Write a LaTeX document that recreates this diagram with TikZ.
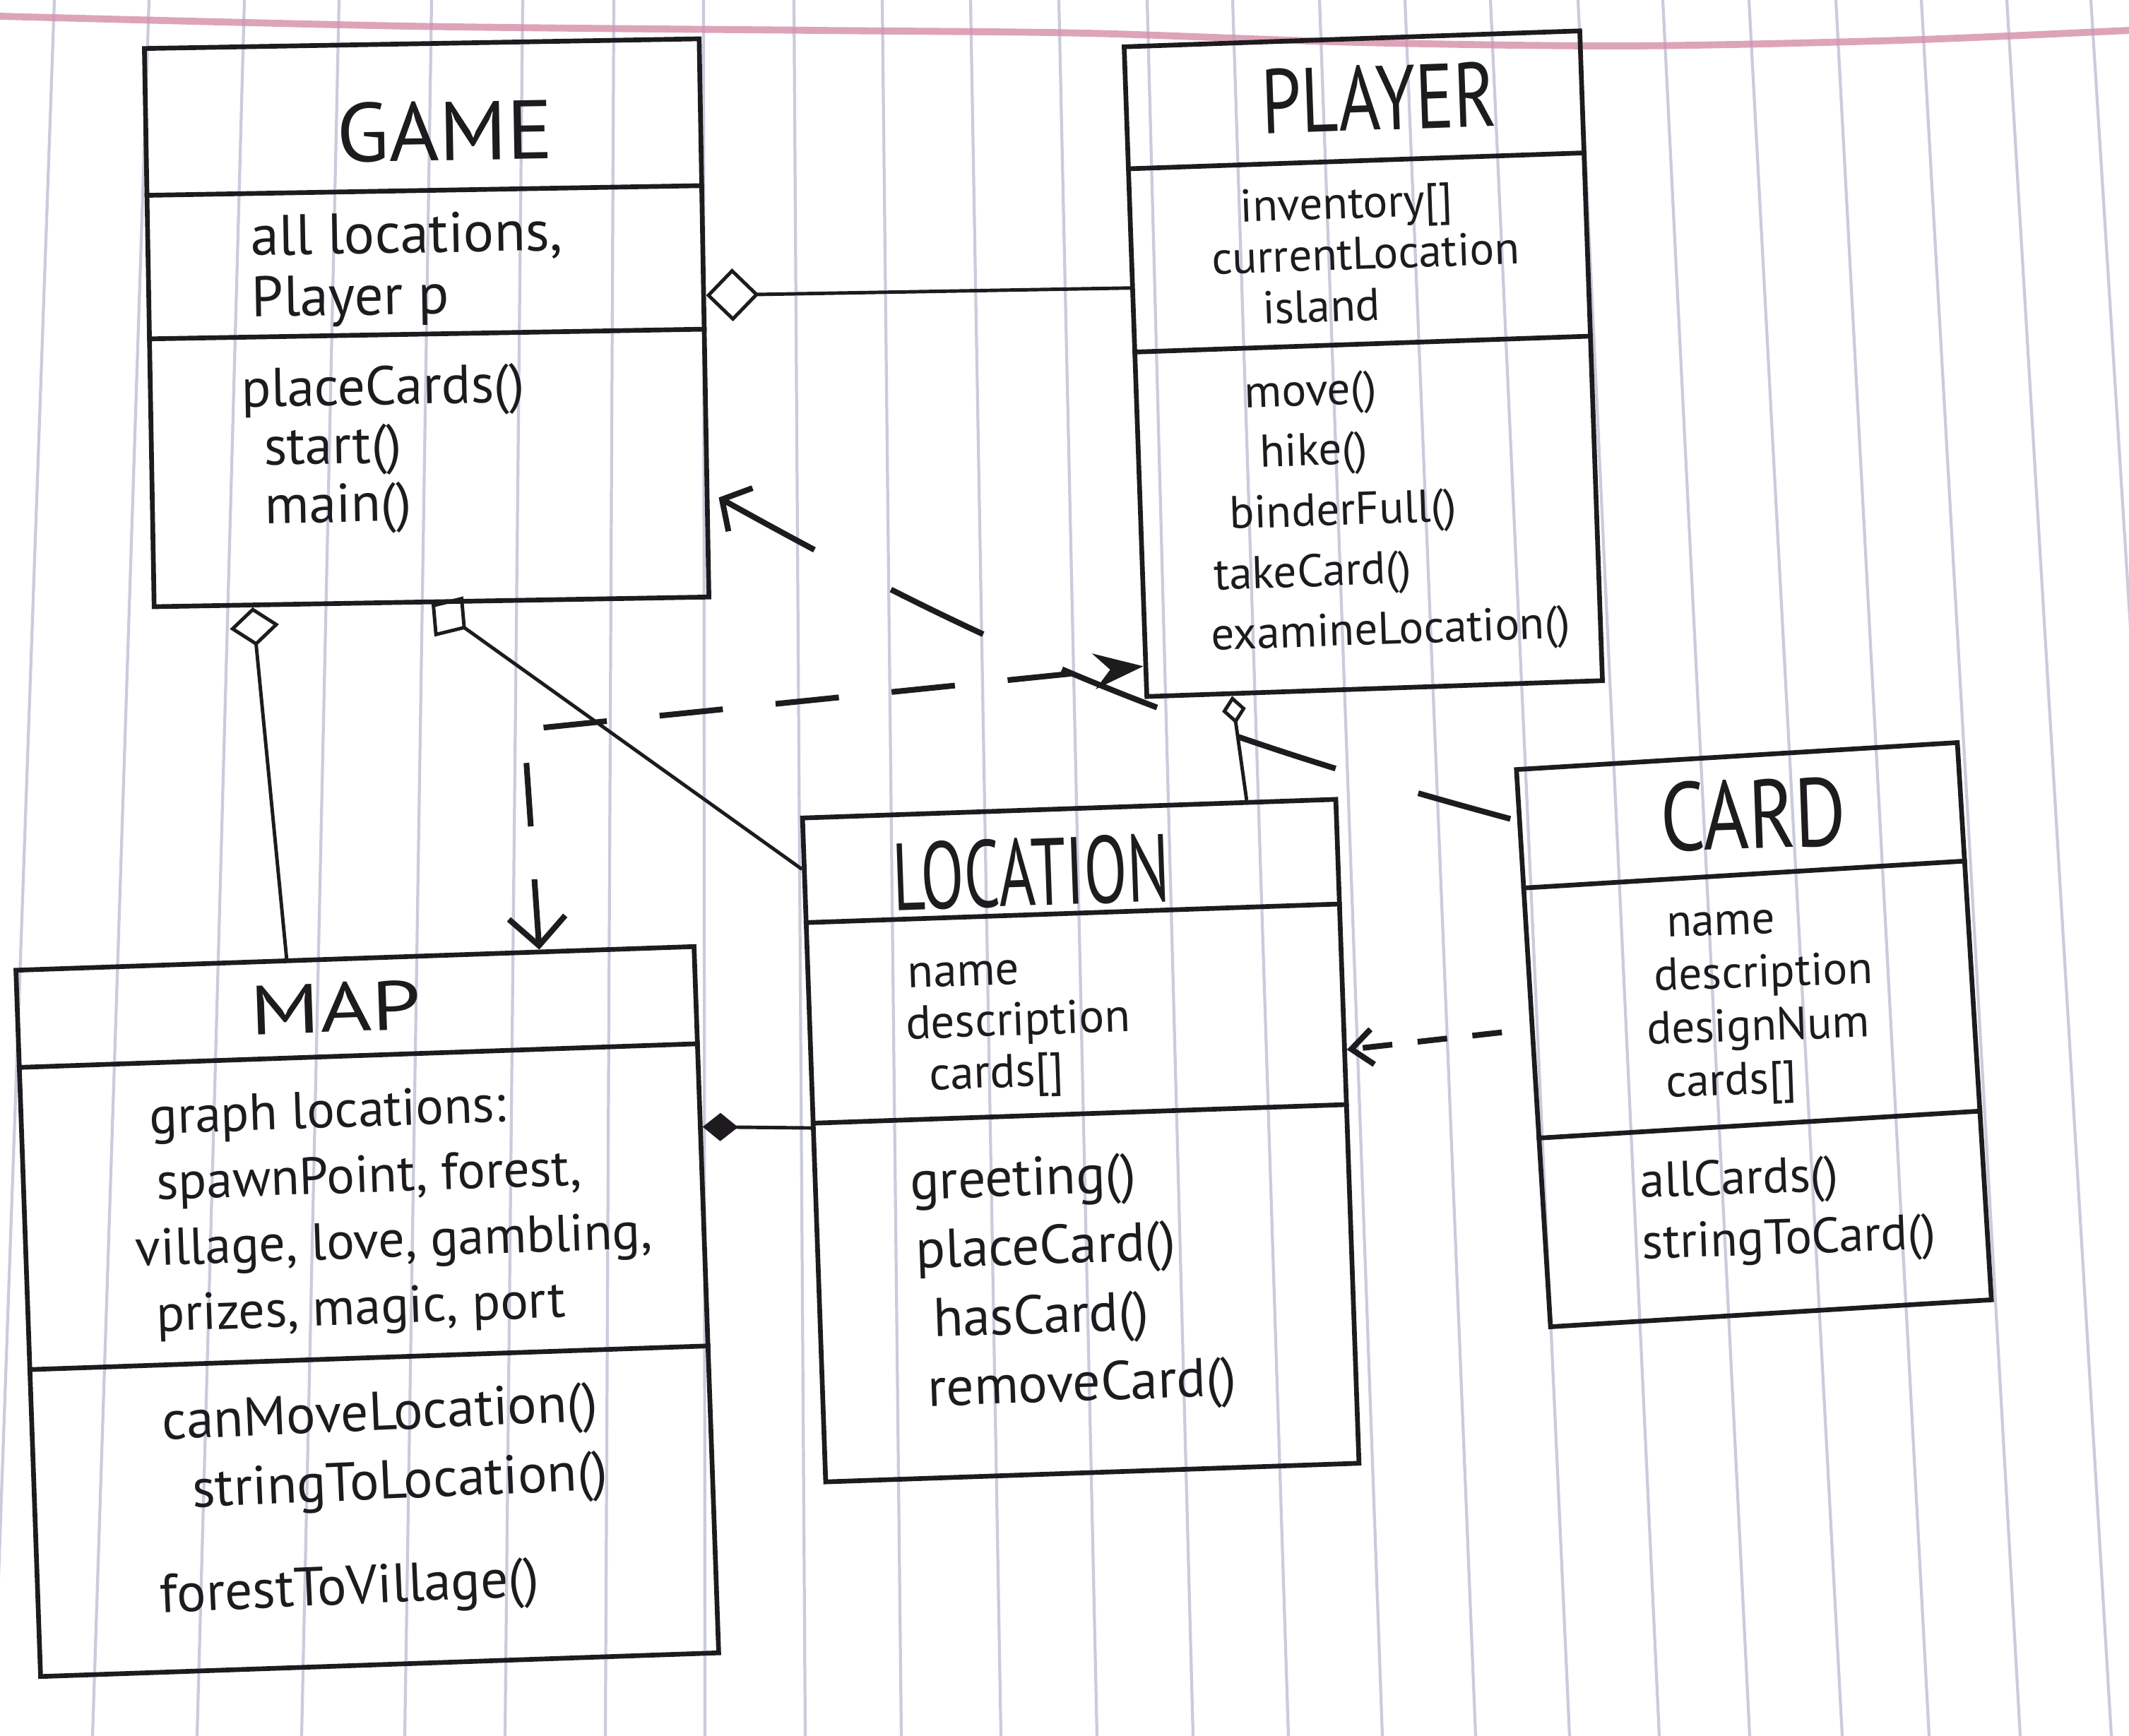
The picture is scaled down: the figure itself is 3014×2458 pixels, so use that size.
\documentclass[tikz,border=0pt]{standalone}
\usepackage{fontspec}
\setmainfont{PT Sans}
\usetikzlibrary{arrows.meta,calc}
\definecolor{ink}{HTML}{1E1B1E}
\definecolor{paperrule}{HTML}{CACCDB}
\definecolor{margin}{HTML}{D58EA8}

\begin{document}
\begin{tikzpicture}[x=0.01cm,y=-0.01cm,
  paperline/.style={draw=paperrule,line width=1.2pt},
  classbox/.style={draw=ink,line width=1.9pt,inner sep=0pt},
  divider/.style={draw=ink,line width=1.9pt},
  classname/.style={text=ink,inner sep=0pt},
  txt/.style 2 args={text=ink,inner sep=0pt,align=left,anchor=west,font=\fontsize{#1}{#2}\selectfont},
  link/.style={draw=ink,line width=1.4pt},
  aggr/.style 2 args={link,arrows={{Diamond[open,length=#1,width=#2]}-}},
  comp/.style={link,arrows={{Diamond[length=5mm,width=4mm]}-}},
  dep/.style={draw=ink,line width=2.3pt}]
\path[use as bounding box,fill=white] (0,0) rectangle (3014,2458);
\foreach \t/\b in {77/-10,211/131,346/279,480/427,611/573,740/715,869/857,996/998,1124/1140,1249/1276,1374/1417,1499/1553,1624/1689,1745/1824,1868/1957,1989/2089,2110/2222,2234/2349,2354/2477,2476/2608,2599/2731,2720/2860,2841/2989,2960/3115}
  \draw[paperline] (\t,0) -- (\b,2458);
\draw[margin,opacity=.8,line width=2.8pt] plot[smooth] coordinates {(0,23) (577,37) (1153,43) (1538,47) (1922,60) (2306,65) (2691,57) (3014,43)};

\node[classbox,rotate=1,minimum width=7.85cm,minimum height=7.9cm] (game) at (604,457) {};
\draw[divider] ($(game.north west)!0.265!(game.south west)$) -- ($(game.north east)!0.265!(game.south east)$);
\draw[divider] ($(game.north west)!0.52!(game.south west)$) -- ($(game.north east)!0.52!(game.south east)$);
\node[classname,rotate=1] (game-name) at (630,186) {\resizebox{3.06cm}{0.84cm}{GAME}};
\node[txt={23}{24.7},rotate=1] (game-attr) at (355,385) {all locations,\\Player p};
\node[txt={22}{23.5},rotate=1] (game-ops) at (343,640) {placeCards()\\\hspace*{0.3cm}start()\\\hspace*{0.3cm}main()};

\node[classbox,rotate=2,minimum width=6.45cm,minimum height=9.2cm] (player) at (1930,515) {};
\draw[divider] ($(player.north west)!0.19!(player.south west)$) -- ($(player.north east)!0.19!(player.south east)$);
\draw[divider] ($(player.north west)!0.47!(player.south west)$) -- ($(player.north east)!0.47!(player.south east)$);
\node[classname,rotate=2] (player-name) at (1952,138) {\resizebox{3.33cm}{0.92cm}{PLAYER}};
\node[txt={18.5}{20.7},rotate=2] (player-attr) at (1715,366) {\hspace*{0.43cm}inventory[]\\currentLocation\\\hspace*{0.69cm}island};
\node[txt={18.5}{24.3},rotate=2] (player-ops) at (1708,734) {\hspace*{0.59cm}move()\\\hspace*{0.78cm}hike()\\\hspace*{0.32cm}binderFull()\\\hspace*{0.07cm}takeCard()\\examineLocation()};

\node[classbox,rotate=2,minimum width=7.55cm,minimum height=9.4cm] (location) at (1530,1615) {};
\draw[divider] ($(location.north west)!0.16!(location.south west)$) -- ($(location.north east)!0.16!(location.south east)$);
\draw[divider] ($(location.north west)!0.46!(location.south west)$) -- ($(location.north east)!0.46!(location.south east)$);
\node[classname,rotate=2] (location-name) at (1460,1235) {\resizebox{3.92cm}{0.96cm}{LOCATION}};
\node[txt={19}{20.7},rotate=2] (location-attr) at (1282,1462) {\hspace*{0.05cm}name\\description\\\hspace*{0.31cm}cards[]};
\node[txt={22}{27.8},rotate=2] (location-ops) at (1293,1826) {greeting()\\\hspace*{0.05cm}placeCard()\\\hspace*{0.26cm}hasCard()\\\hspace*{0.15cm}removeCard()};

\node[classbox,rotate=3.5,minimum width=6.25cm,minimum height=7.9cm] (card) at (2483,1465) {};
\draw[divider] ($(card.north west)!0.215!(card.south west)$) -- ($(card.north east)!0.215!(card.south east)$);
\draw[divider] ($(card.north west)!0.66!(card.south west)$) -- ($(card.north east)!0.66!(card.south east)$);
\node[classname,rotate=2] (card-name) at (2482,1153) {\resizebox{2.63cm}{0.98cm}{CARD}};
\node[txt={18.5}{21.5},rotate=2] (card-attr) at (2330,1432) {\hspace*{0.33cm}name\\\hspace*{0.13cm}description\\designNum\\\hspace*{0.24cm}cards[]};
\node[txt={20}{24.7},rotate=2] (card-ops) at (2323,1722) {allCards()\\stringToCard()};

\node[classbox,rotate=2,minimum width=9.6cm,minimum height=10cm] (map) at (520,1857) {};
\draw[divider] ($(map.north west)!0.14!(map.south west)$) -- ($(map.north east)!0.14!(map.south east)$);
\draw[divider] ($(map.north west)!0.565!(map.south west)$) -- ($(map.north east)!0.565!(map.south east)$);
\node[classname,rotate=2] (map-name) at (475,1426) {\resizebox{2.41cm}{0.70cm}{MAP}};
\node[txt={21}{26.5},rotate=2] (map-attr) at (190,1728) {\hspace*{0.26cm}graph locations:\\\hspace*{0.33cm}spawnPoint, forest,\\village, love, gambling,\\\hspace*{0.26cm}prizes, magic, port};
\node[txt={22}{27.8},rotate=2.5] (map-ops) at (221,2142) {\hspace*{0.13cm}canMoveLocation()\\\hspace*{0.52cm}stringToLocation()\\[13.9pt]forestToVillage()};

\draw[aggr={7.5mm}{7.5mm}] ($(game.north east)!0.46!(game.south east)$) -- ($(player.north west)!0.372!(player.south west)$);
\draw[aggr={5.5mm}{7mm}] ($(game.south west)!0.18!(game.south east)$) -- ($(map.north west)!0.40!(map.north east)$);
\draw[aggr={6mm}{7mm}] ($(game.south west)!0.5!(game.south east)$) -- ($(location.north west)!0.08!(location.south west)$);
\draw[aggr={4mm}{3.4mm}] ($(player.south west)!0.19!(player.south east)$) -- ($(location.north west)!0.83!(location.north east)$);
\draw[comp] ($(map.north east)!0.257!(map.south east)$) -- ($(location.north west)!0.467!(location.south west)$);

\coordinate (bend) at (742,1033);
\draw[dep,dash pattern=on 0.9cm off 0.75cm,arrows={{Straight Barb[length=4mm,width=8mm]}-{Stealth[length=7mm,width=5mm]}}] ($(map.north west)!0.77!(map.north east)$) -- (bend) -- ($(player.north west)!0.95!(player.south west)$);
\draw[dep,dash pattern=on 1.45cm off 1.22cm,arrows={{Straight Barb[length=3mm,width=7mm]}-},shorten <=1.5mm,shorten >=1mm] ($(game.north east)!0.81!(game.south east)$) to[bend right=7] ($(card.north west)!0.095!(card.south west)$);
\draw[dep,dash pattern=on 4.2mm off 3.6mm,arrows={-{Straight Barb[length=3mm,width=5mm]}},shorten <=4mm] ($(card.north west)!0.466!(card.south west)$) -- ($(location.north east)!0.378!(location.south east)$);
\end{tikzpicture}
\end{document}
